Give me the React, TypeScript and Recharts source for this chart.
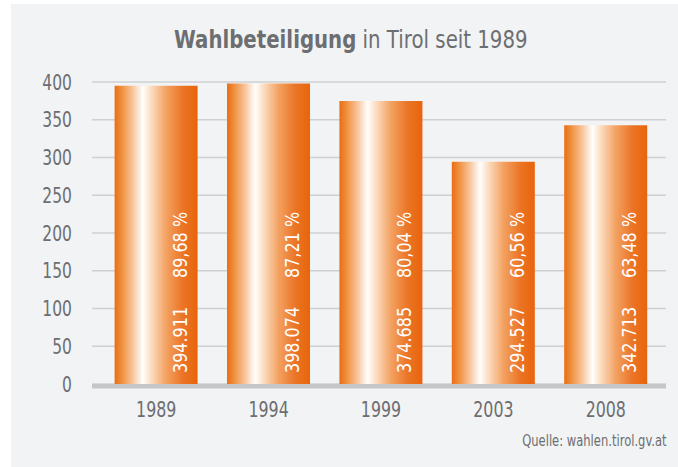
import { BarChart, Bar, XAxis, YAxis, CartesianGrid, LabelList, ReferenceLine } from "recharts";

const years = ["1989", "1994", "1999", "2003", "2008"];
const voters = [394.911, 398.074, 374.685, 294.527, 342.713];
const voterLabels = ["394.911", "398.074", "374.685", "294.527", "342.713"];
const turnout = ["89,68 %", "87,21 %", "80,04 %", "60,56 %", "63,48 %"];
const yTicks = [0, 50, 100, 150, 200, 250, 300, 350, 400];

const data = years.map((year, i) => ({
  year,
  voters: voters[i],
}));

// no condensed font installed, so text gets squeezed horizontally
const FONT = "'DejaVu Sans', sans-serif";
const GRAY = "#6d6e71";

function YTick(props: any) {
  const { x, y, payload } = props;
  return (
    <text
      transform={`translate(${x},${y}) scale(0.74,1)`}
      textAnchor="end"
      dy="0.36em"
      fill={GRAY}
      fontFamily={FONT}
      fontSize={21}
    >
      {payload.value}
    </text>
  );
}

function XTick(props: any) {
  const { x, y, payload } = props;
  return (
    <text
      transform={`translate(${x},${y}) scale(0.72,1)`}
      textAnchor="middle"
      dy="0.72em"
      fill={GRAY}
      fontFamily={FONT}
      fontSize={22}
    >
      {payload.value}
    </text>
  );
}

function BarLabels(props: any) {
  const { x, y, width, height, index } = props;
  const cx = x + width * 0.78;
  const bottom = y + height;
  const valueY = bottom - 11;
  const pctY = bottom - 106;
  return (
    <g fill="#fff" fontFamily={FONT} fontSize={20}>
      <text transform={`translate(${cx},${valueY}) rotate(-90) scale(0.8,1)`} textAnchor="start" dy="0.36em">
        {voterLabels[index]}
      </text>
      <text transform={`translate(${cx},${pctY}) rotate(-90) scale(0.8,1)`} textAnchor="start" dy="0.36em">
        {turnout[index]}
      </text>
    </g>
  );
}

function BaseLine(props: any) {
  const { x1, x2, y1 } = props;
  return <rect x={x1} y={y1} width={x2 - x1} height={4.5} fill="#c5c6c8" />;
}

export default function App() {
  return (
    <div style={{ position: "absolute", left: 0, top: 0, width: 678, height: 467, background: "#fff" }}>
      <div style={{ position: "absolute", left: 11, top: 4, width: 667, height: 463, background: "#f2f3f5" }} />
      <div
        style={{
          position: "absolute",
          left: 0,
          top: 25,
          width: 702,
          textAlign: "center",
          fontFamily: FONT,
          fontSize: 25,
          color: GRAY,
          lineHeight: "30px",
          whiteSpace: "nowrap",
        }}
      >
        <span style={{ display: "inline-block", transform: "scaleX(0.79)" }}>
          <span style={{ fontWeight: "bold" }}>Wahlbeteiligung</span> in Tirol seit 1989
        </span>
      </div>
      <div
        style={{
          position: "absolute",
          right: 11,
          top: 432,
          fontFamily: FONT,
          fontSize: 15,
          color: GRAY,
          whiteSpace: "nowrap",
          transform: "scaleX(0.77)",
          transformOrigin: "right center",
        }}
      >
        Quelle: wahlen.tirol.gv.at
      </div>
      <div style={{ position: "absolute", left: 0, top: 0 }}>
        <BarChart
          width={678}
          height={467}
          data={data}
          margin={{ top: 82, right: 12, bottom: 43, left: 32 }}
          barCategoryGap="13%"
        >
          <defs>
            <linearGradient id="barGrad" x1="0" y1="0" x2="1" y2="0">
              <stop offset="0%" stopColor="#e96e14" />
              <stop offset="8%" stopColor="#ef8d3a" />
              <stop offset="22%" stopColor="#f8c69c" />
              <stop offset="34%" stopColor="#ffffff" />
              <stop offset="42%" stopColor="#fde3cc" />
              <stop offset="62%" stopColor="#f3a262" />
              <stop offset="82%" stopColor="#eb7526" />
              <stop offset="100%" stopColor="#e8640b" />
            </linearGradient>
          </defs>
          <CartesianGrid vertical={false} stroke="#cfd0d2" strokeWidth={1.5} />
          <XAxis
            dataKey="year"
            axisLine={false}
            tickLine={false}
            tickSize={0}
            tickMargin={17}
            height={40}
            padding={{ left: 8, right: 4 }}
            tick={<XTick />}
          />
          <YAxis
            domain={[0, 400]}
            ticks={yTicks}
            width={60}
            axisLine={false}
            tickLine={false}
            tickSize={0}
            tickMargin={20}
            tick={<YTick />}
          />
          <Bar dataKey="voters" fill="url(#barGrad)" isAnimationActive={false}>
            <LabelList dataKey="voters" content={<BarLabels />} />
          </Bar>
          <ReferenceLine y={0} shape={<BaseLine />} />
        </BarChart>
      </div>
    </div>
  );
}
